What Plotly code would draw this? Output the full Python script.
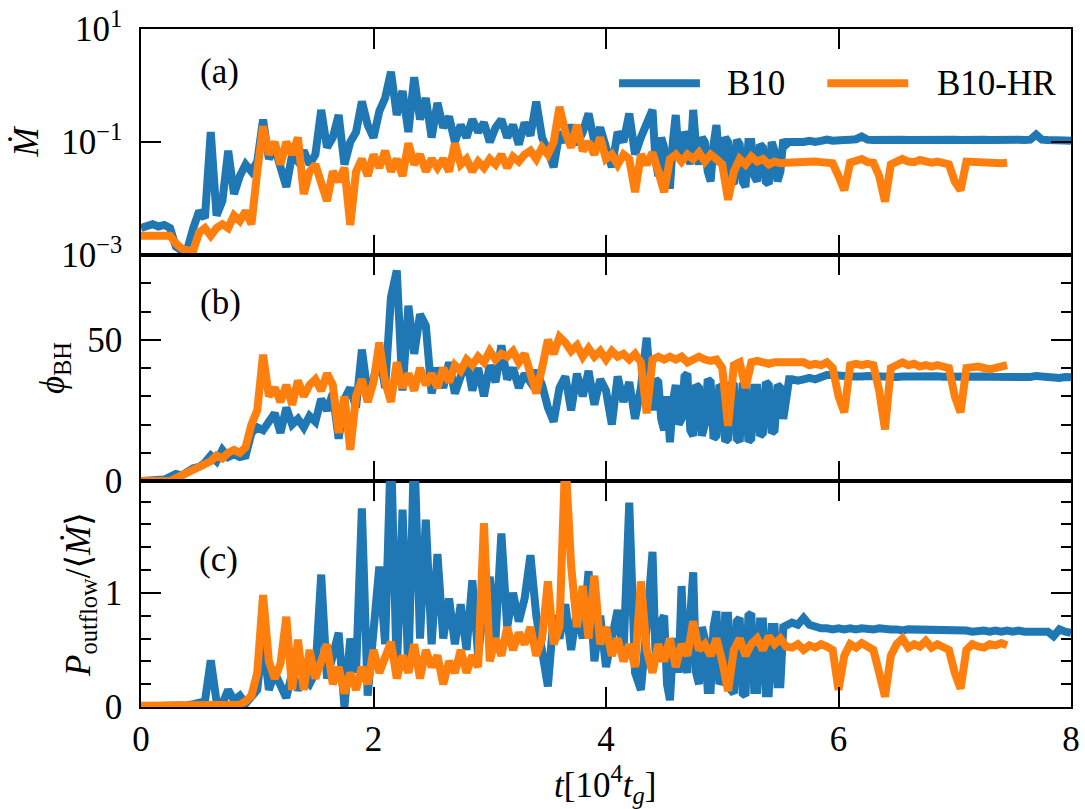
import numpy as np
import plotly.graph_objects as go
from plotly.subplots import make_subplots

# ---------------- data ----------------
# B10 is sampled every 0.05 (x10^4 t_g), except 4.4-5.6 where it is sampled every 0.025.
# B10-HR is sampled every 0.05 from 0 to 7.45.
mdot_b10 = [
    0.0030, 0.0033, 0.0035, 0.0032, 0.0034, 0.0030, 0.0014, 0.0012, 0.0013, 0.0030,
    0.0060, 0.0045, 0.15, 0.0050, 0.0090, 0.070, 0.012, 0.025, 0.040, 0.030,
    0.045, 0.25, 0.050, 0.080, 0.035, 0.016, 0.060, 0.045, 0.070, 0.040,
    0.060, 0.37, 0.080, 0.12, 0.30, 0.040, 0.10, 0.15, 0.52, 0.20,
    0.12, 0.35, 0.60, 1.75, 0.30, 0.80, 0.15, 1.40, 0.25, 0.60,
    0.12, 0.49, 0.18, 0.28, 0.10, 0.20, 0.12, 0.25, 0.15, 0.22,
    0.10, 0.18, 0.25, 0.12, 0.20, 0.09, 0.22, 0.13, 0.52, 0.12,
    0.07, 0.036, 0.15, 0.10, 0.20, 0.09, 0.15, 0.32, 0.10, 0.18,
    0.08, 0.036, 0.15, 0.10, 0.32, 0.06, 0.12, 0.20,
    # 4.4 - 5.575 (step 0.025)
    0.37, 0.05, 0.025, 0.12, 0.08, 0.03, 0.015, 0.10, 0.30, 0.06, 0.05, 0.15,
    0.12, 0.04, 0.37, 0.08, 0.04, 0.12, 0.10, 0.03, 0.02, 0.09, 0.20, 0.04,
    0.05, 0.12, 0.10, 0.02, 0.018, 0.11, 0.09, 0.02, 0.016, 0.10, 0.10, 0.025,
    0.02, 0.09, 0.08, 0.02, 0.018, 0.10, 0.07, 0.02, 0.03, 0.11, 0.09, 0.10,
    # 5.6 - 8.0
    0.10, 0.095, 0.10, 0.105, 0.10, 0.105, 0.11, 0.105,
    0.11, 0.108, 0.11, 0.112, 0.125, 0.11, 0.108, 0.11, 0.109, 0.11,
    0.108, 0.11, 0.109, 0.11, 0.108, 0.11, 0.109, 0.108, 0.11, 0.109,
    0.11, 0.108, 0.11, 0.112, 0.109, 0.11, 0.108, 0.11, 0.109, 0.11,
    0.108, 0.11, 0.109, 0.11, 0.135, 0.11, 0.108, 0.11, 0.107, 0.106,
    0.105,
]
phi_b10 = [
    0, 0, 0, 0, 0.5, 1.5, 2.5, 2.0, 3.5, 4.5,
    5.0, 6.5, 9.0, 7.0, 11.0, 8.5, 9.5, 8.5, 9.0, 17.0,
    19.0, 18.0, 21.0, 24.0, 17.0, 26.0, 20.0, 22.0, 19.0, 23.0,
    21.0, 29.0, 25.0, 31.0, 15.0, 29.0, 33.0, 26.0, 46.5, 31.0,
    36.0, 45.0, 33.0, 65.0, 74.5, 32.0, 62.0, 45.0, 59.0, 55.0,
    31.0, 40.0, 33.0, 42.0, 31.0, 38.0, 43.0, 32.0, 40.0, 30.0,
    41.0, 35.0, 48.0, 36.0, 40.0, 33.0, 38.0, 35.0, 39.0, 34.0,
    26.0, 21.0, 33.0, 37.0, 25.0, 38.0, 30.0, 39.0, 27.0, 36.0,
    32.0, 20.0, 37.0, 28.0, 35.0, 22.0, 33.0, 50.7,
    # 4.4 - 5.575 (step 0.025)
    25, 36, 35, 22, 18, 30, 13.7, 28, 34, 20, 22, 37,
    38, 18, 16, 34, 33, 16, 20, 36, 35, 15, 16, 34,
    33, 14, 15, 35, 34, 15, 14, 34, 35, 14, 15, 33,
    33, 16, 17, 35, 34, 17, 18, 34, 33, 22, 30, 36,
    # 5.6 - 8.0
    36.0, 35.5, 36.0, 36.5, 36.0, 37.0, 37.5, 37.5,
    37.0, 37.2, 37.0, 36.8, 37.0, 37.2, 37.0, 36.9, 37.1, 37.0,
    36.8, 37.0, 37.1, 36.9, 37.0, 36.8, 37.0, 37.1, 36.9, 37.0,
    36.8, 37.0, 36.9, 37.0, 36.8, 37.0, 36.9, 36.8, 37.0, 36.9,
    36.8, 37.0, 36.9, 36.8, 37.2, 36.9, 36.8, 36.9, 36.5, 36.8,
    36.7,
]
pout_b10 = [
    0.005, 0.005, 0.005, 0.005, 0.005, 0.008, 0.010, 0.012, 0.015, 0.025,
    0.035, 0.05, 0.41, 0.05, 0.03, 0.15, 0.06, 0.10, 0.03, 0.10,
    0.15, 0.60, 0.15, 0.30, 0.20, 0.08, 0.30, 0.15, 0.25, 0.20,
    0.30, 1.16, 0.25, 0.48, 0.65, 0.0, 0.60, 0.30, 1.74, 0.10,
    0.70, 1.23, 0.55, 2.3, 0.30, 1.73, 0.30, 2.3, 0.60, 1.64,
    0.55, 1.34, 0.60, 0.95, 0.55, 0.90, 0.50, 1.11, 0.45, 0.90,
    1.14, 0.60, 1.52, 0.70, 1.00, 0.75, 0.95, 1.33, 0.80, 0.50,
    0.18, 0.80, 0.60, 0.90, 0.50, 0.85, 0.60, 1.19, 0.40, 0.80,
    0.35, 0.60, 0.85, 0.45, 1.79, 0.30, 0.15, 0.70,
    # 4.4 - 5.575 (step 0.025)
    1.36, 0.5, 0.40, 0.75, 0.80, 0.2, 0.06, 0.5, 0.60, 0.3, 1.06, 0.4,
    0.30, 0.8, 1.18, 0.3, 0.20, 0.7, 0.60, 0.15, 0.15, 0.7, 0.84, 0.2,
    0.25, 0.8, 0.80, 0.15, 0.12, 0.75, 0.78, 0.12, 0.10, 0.8, 0.82, 0.15,
    0.15, 0.75, 0.75, 0.12, 0.12, 0.7, 0.70, 0.2, 0.20, 0.7, 0.72, 0.74,
    # 5.6 - 8.0
    0.74, 0.72, 0.78, 0.72, 0.70, 0.69, 0.69, 0.68,
    0.69, 0.68, 0.69, 0.68, 0.69, 0.68, 0.68, 0.69, 0.68, 0.68,
    0.68, 0.67, 0.68, 0.68, 0.67, 0.68, 0.67, 0.68, 0.67, 0.67,
    0.68, 0.67, 0.67, 0.66, 0.67, 0.67, 0.66, 0.67, 0.66, 0.67,
    0.66, 0.67, 0.66, 0.66, 0.67, 0.66, 0.66, 0.62, 0.68, 0.66,
    0.65,
]
mdot_hr = [
    0.0022, 0.0022, 0.0022, 0.0022, 0.0022, 0.0022, 0.0016, 0.0013, 0.0012, 0.0012,
    0.0025, 0.0030, 0.0022, 0.0030, 0.0035, 0.0030, 0.0050, 0.0040, 0.0060, 0.0035,
    0.030, 0.19, 0.06, 0.10, 0.04, 0.10, 0.06, 0.12, 0.012, 0.03,
    0.04, 0.02, 0.009, 0.03, 0.02, 0.035, 0.0034, 0.03, 0.05, 0.025,
    0.06, 0.035, 0.07, 0.03, 0.05, 0.025, 0.095, 0.04, 0.06, 0.03,
    0.05, 0.035, 0.05, 0.03, 0.095, 0.04, 0.05, 0.03, 0.045, 0.035,
    0.05, 0.04, 0.06, 0.035, 0.055, 0.045, 0.06, 0.07, 0.05, 0.08,
    0.06, 0.10, 0.42, 0.15, 0.08, 0.20, 0.07, 0.10, 0.06, 0.12,
    0.05, 0.06, 0.04, 0.06, 0.05, 0.013, 0.06, 0.04, 0.065, 0.03,
    0.013, 0.05, 0.06, 0.045, 0.06, 0.05, 0.065, 0.045, 0.06, 0.05,
    0.04, 0.0095, 0.03, 0.05, 0.04, 0.055, 0.045, 0.05, 0.04, 0.045,
    0.042, 0.043, 0.044, 0.045, 0.043, 0.044, 0.045, 0.044, 0.043, 0.042,
    0.025, 0.014, 0.043, 0.045, 0.050, 0.044, 0.043, 0.025, 0.0088, 0.040,
    0.045, 0.050, 0.045, 0.044, 0.048, 0.044, 0.043, 0.045, 0.044, 0.040,
    0.020, 0.014, 0.045, 0.044, 0.043, 0.044, 0.042, 0.043, 0.042, 0.043,
]
phi_hr = [
    0, 0, 0, 0, 0, 0, 1.0, 2.0, 2.5, 3.5,
    4.5, 6.0, 7.0, 9.0, 8.0, 10.0, 11.0, 10.0, 12.0, 20.0,
    25.0, 44.7, 30.0, 33.0, 28.0, 34.0, 27.0, 35.5, 30.0, 34.0,
    36.0, 32.0, 38.0, 34.0, 17.0, 30.0, 11.0, 30.0, 36.0, 28.0,
    35.0, 49.0, 35.0, 28.0, 42.0, 33.0, 38.0, 32.0, 40.0, 34.0,
    38.0, 33.0, 40.0, 35.0, 41.0, 39.0, 43.0, 41.0, 44.0, 42.0,
    46.0, 43.0, 45.0, 44.0, 46.0, 42.0, 45.0, 38.0, 31.0, 40.0,
    50.0, 45.0, 51.0, 49.0, 46.0, 48.0, 44.0, 47.0, 44.0, 46.0,
    43.0, 46.0, 44.0, 45.0, 43.0, 45.0, 42.0, 24.0, 43.0, 44.0,
    43.0, 44.0, 43.0, 44.0, 42.0, 43.0, 44.0, 43.0, 42.5, 43.0,
    40.0, 19.5, 41.0, 42.0, 33.0, 42.0, 42.5, 42.0, 41.5, 42.0,
    42.0, 41.5, 42.0, 41.5, 42.0, 41.0, 41.5, 41.0, 42.0, 40.0,
    30.0, 24.3, 41.0, 41.5, 41.0, 41.5, 41.0, 32.0, 18.3, 40.0,
    41.0, 42.0, 41.0, 41.5, 40.5, 41.0, 40.5, 41.0, 40.5, 40.0,
    30.0, 24.3, 40.0, 40.5, 40.5, 40.0, 39.5, 40.0, 40.5, 41.0,
]
pout_hr = [
    0.01, 0.01, 0.01, 0.01, 0.01, 0.01, 0.01, 0.01, 0.01, 0.01,
    0.01, 0.01, 0.01, 0.01, 0.01, 0.01, 0.01, 0.02, 0.05, 0.10,
    0.30, 0.98, 0.40, 0.25, 0.38, 0.79, 0.15, 0.59, 0.15, 0.50,
    0.25, 0.40, 0.55, 0.20, 0.35, 0.12, 0.30, 0.15, 0.35, 0.20,
    0.50, 0.30, 0.45, 0.57, 0.25, 0.45, 0.30, 0.55, 0.25, 0.50,
    0.35, 0.45, 0.20, 0.40, 0.30, 0.50, 0.30, 0.45, 0.35, 1.61,
    0.40, 0.60, 0.45, 0.70, 0.50, 0.65, 0.55, 0.70, 0.45, 0.60,
    1.10, 0.55, 0.70, 2.2, 1.24, 0.70, 1.06, 0.60, 1.15, 0.55,
    0.70, 0.45, 0.60, 0.40, 0.55, 0.35, 1.10, 0.50, 0.30, 0.55,
    0.40, 0.60, 0.35, 0.55, 0.45, 0.75, 0.50, 0.55, 0.45, 0.60,
    0.40, 0.14, 0.50, 0.60, 0.45, 0.55, 0.60, 0.50, 0.62, 0.55,
    0.60, 0.53, 0.52, 0.55, 0.50, 0.54, 0.52, 0.55, 0.53, 0.50,
    0.15, 0.45, 0.55, 0.52, 0.56, 0.53, 0.50, 0.30, 0.09, 0.45,
    0.55, 0.60, 0.52, 0.55, 0.53, 0.58, 0.52, 0.55, 0.53, 0.50,
    0.30, 0.16, 0.50, 0.55, 0.53, 0.52, 0.55, 0.54, 0.56, 0.54,
]
series_names = ["B10", "B10-HR"]
x_ticks = [0, 2, 4, 6, 8]
mdot_ticks = [1e-3, 1e-1, 1e1]
mdot_ticktext = ["10<sup>−3</sup>", "10<sup>−1</sup>", "10<sup>1</sup>"]

# sampling times
t_b10 = np.round(np.concatenate([np.arange(88) * 0.05,
                                 4.4 + np.arange(48) * 0.025,
                                 5.6 + np.arange(49) * 0.05]), 4)
t_hr = np.round(np.arange(len(mdot_hr)) * 0.05, 4)
assert len(t_b10) == len(mdot_b10) == len(phi_b10) == len(pout_b10)
assert len(t_hr) == len(phi_hr) == len(pout_hr)

BLUE = "#1f77b4"
ORANGE = "#ff7f0e"
FONT = "Liberation Serif, DejaVu Serif, serif"
FS = 35
LW = 8

fig = make_subplots(rows=3, cols=1, shared_xaxes=True, vertical_spacing=0)

panels = [(mdot_b10, mdot_hr), (phi_b10, phi_hr), (pout_b10, pout_hr)]
for r, (yb, yh) in enumerate(panels, start=1):
    fig.add_trace(go.Scatter(x=t_b10, y=yb, mode="lines", name=series_names[0],
                             line=dict(color=BLUE, width=LW), showlegend=False),
                  row=r, col=1)
    fig.add_trace(go.Scatter(x=t_hr, y=yh, mode="lines", name=series_names[1],
                             line=dict(color=ORANGE, width=LW), showlegend=False),
                  row=r, col=1)

axis_common = dict(showline=True, linecolor="black", linewidth=1.5, mirror="allticks",
                   ticks="inside", ticklen=20, tickwidth=2, tickcolor="black",
                   showgrid=False, zeroline=False, automargin=False,
                   tickfont=dict(family=FONT, size=FS, color="black"))

for r in (1, 2, 3):
    fig.update_xaxes(range=[0, 8], tickmode="array", tickvals=x_ticks,
                     showticklabels=(r == 3), ticklabelstandoff=0,
                     row=r, col=1, **axis_common)

minor_common = dict(ticks="inside", ticklen=10, tickwidth=2, tickcolor="black", showgrid=False)

fig.update_yaxes(type="log", range=[-3, 1], tickmode="array", tickvals=mdot_ticks,
                 ticktext=mdot_ticktext, ticklabelstandoff=10,
                 title=dict(text="<i>Ṁ</i>", font=dict(family=FONT, size=FS, color="black"),
                            standoff=12),
                 row=1, col=1, **axis_common)
fig.update_yaxes(range=[0, 80], tick0=0, dtick=50, ticklabelstandoff=10,
                 minor=dict(dtick=10, tick0=0, **minor_common),
                 title=dict(text="<i>ϕ</i><sub>BH</sub>",
                            font=dict(family=FONT, size=FS, color="black"), standoff=12),
                 row=2, col=1, **axis_common)
fig.update_yaxes(range=[0, 1.98], tick0=0, dtick=1, ticklabelstandoff=10,
                 minor=dict(dtick=0.2, tick0=0, **minor_common),
                 title=dict(text="<i>P</i><sub>outflow</sub>/⟨<i>Ṁ</i>⟩",
                            font=dict(family=FONT, size=FS, color="black"), standoff=4),
                 row=3, col=1, **axis_common)

fig.update_layout(
    width=1085, height=809,
    margin=dict(l=141, r=14, t=29, b=102),
    paper_bgcolor="white", plot_bgcolor="white",
    font=dict(family=FONT, size=FS, color="black"),
    showlegend=False,
)
fig.update_yaxes(domain=[2/3, 1], row=1, col=1)
fig.update_yaxes(domain=[1/3, 2/3], row=2, col=1)
fig.update_yaxes(domain=[0, 1/3], row=3, col=1)

# x-axis title (placed explicitly below the tick labels)
fig.add_annotation(text="<i>t</i>[10<sup>4</sup><i>t</i><sub><i>g</i></sub>]",
                   x=0.499, y=-0.115, xref="paper", yref="paper",
                   xanchor="center", yanchor="middle", showarrow=False,
                   font=dict(family=FONT, size=FS, color="black"))

# panel labels
for lab, xp, yp in [("(a)", 0.084, 0.937), ("(b)", 0.085, 0.597), ("(c)", 0.083, 0.218)]:
    fig.add_annotation(text=lab, x=xp, y=yp, xref="paper", yref="paper",
                       xanchor="center", yanchor="middle", showarrow=False,
                       font=dict(family=FONT, size=FS, color="black"))

# legend (drawn inside panel a)
leg_y = 0.920
for (x0, x1, xt, col, name) in [(0.514, 0.601, 0.628, BLUE, series_names[0]),
                                (0.738, 0.825, 0.854, ORANGE, series_names[1])]:
    fig.add_shape(type="line", x0=x0, x1=x1, y0=leg_y, y1=leg_y, xref="paper", yref="paper",
                  line=dict(color=col, width=LW))
    fig.add_annotation(text=name, x=xt, y=leg_y, xref="paper", yref="paper",
                       xanchor="left", yanchor="middle", showarrow=False,
                       font=dict(family=FONT, size=FS, color="black"))

fig.write_html("out.html")
